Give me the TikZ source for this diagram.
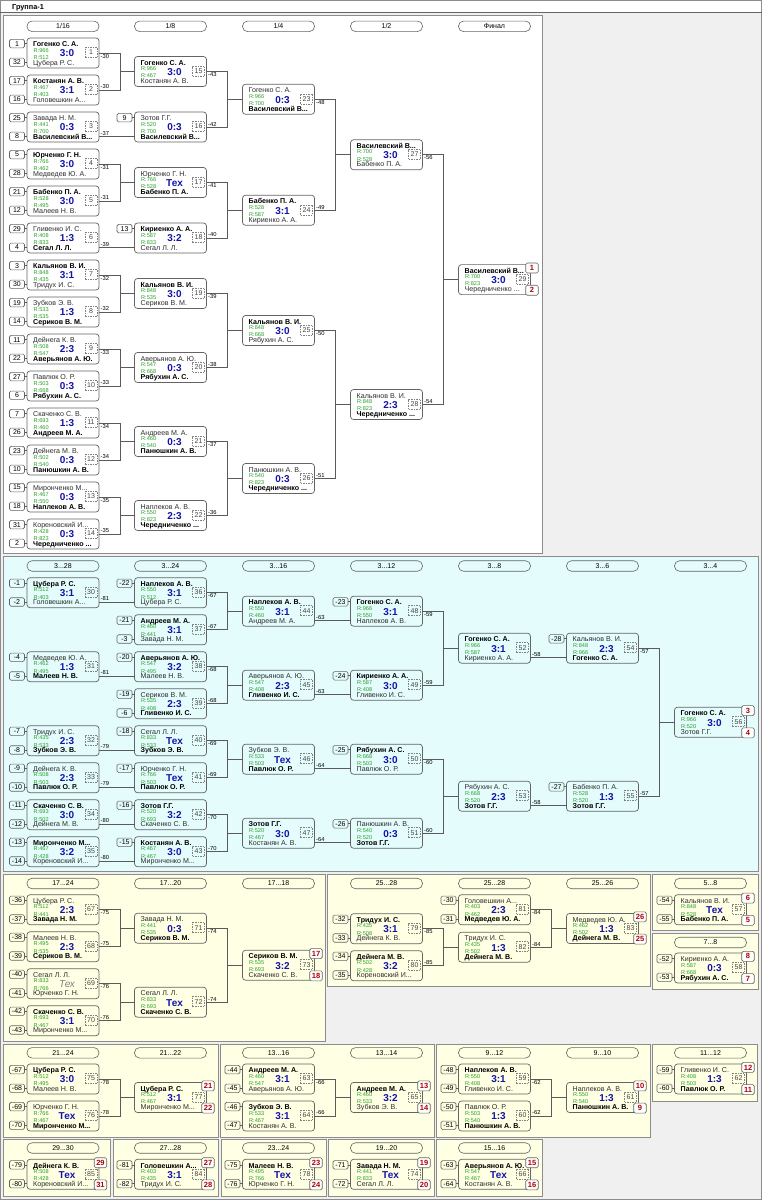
\documentclass[tikz,border=0pt]{standalone}
\usepackage{fontspec}
\setmainfont{Liberation Sans}
\usetikzlibrary{calc}
\definecolor{bggr}{RGB}{240,240,240}
\definecolor{cyn}{RGB}{228,252,252}
\definecolor{ylw}{RGB}{255,255,228}
\definecolor{bx}{RGB}{100,100,100}
\definecolor{cn}{RGB}{90,90,90}
\definecolor{pg}{RGB}{140,140,140}
\definecolor{grn}{RGB}{40,160,40}
\definecolor{blu}{RGB}{20,20,170}
\definecolor{plred}{RGB}{170,0,0}
\definecolor{nmc}{RGB}{45,45,45}
\definecolor{numc}{RGB}{70,70,70}
\newcommand\fs[1]{\fontsize{#1}{#1}\selectfont}
\tikzset{
 mbox/.style={draw=bx, rounded corners=3pt, minimum width=72pt, minimum height=30pt, anchor=north west, inner sep=0pt, outer sep=0pt, line width=0.7pt},
 nm/.style={anchor=base west, inner sep=0pt, font=\fs{7.1}, text=nmc},
 rt/.style={anchor=base west, inner sep=0pt, font=\fs{5.6}, text=grn},
 sc/.style={anchor=base, inner sep=0pt, font=\fs{10}\bfseries, text=blu},
 numbox/.style={draw=gray, dash pattern=on 1.5pt off 1pt, line width=0.5pt, minimum width=12pt, minimum height=10pt, inner sep=0pt, font=\fs{7}, text=numc},
 seed/.style={draw=bx, rounded corners=1.5pt, minimum width=15pt, minimum height=8.5pt, inner sep=0pt, font=\fs{7}, line width=0.6pt},
 plbox/.style={draw=bx, fill=white, rounded corners=1.5pt, minimum width=12.5pt, minimum height=10pt, inner sep=0pt, font=\fs{7.5}\bfseries, text=plred, line width=0.6pt},
 hdr/.style={draw=bx, rounded corners=5pt, minimum width=72pt, minimum height=10.5pt, inner sep=0pt, font=\fs{7}, line width=0.6pt},
 conn/.style={draw=cn, line width=0.7pt},
 lbl/.style={inner sep=0pt, font=\fs{5.8}},
 panel/.style={draw=pg, line width=1pt},
}
\newcommand\mt[9]{%
 \node[mbox] (m#3) at (#1,#2) {};
 \ifnum#4=1 \def\fa{\bfseries\color{black}}\def\fb{}\else\ifnum#4=2 \def\fa{}\def\fb{\bfseries\color{black}}\else\def\fa{}\def\fb{}\fi\fi
 \node[nm] (m#3a) at ([shift={(6,8.7)}]m#3.north west) {\fa #5};
 \node[rt] (m#3ra) at ([shift={(6.5,14)}]m#3.north west) {R:#6};
 \node[rt] (m#3rb) at ([shift={(6.5,21.3)}]m#3.north west) {R:#8};
 \node[nm] (m#3b) at ([shift={(6,27.2)}]m#3.north west) {\fb #7};
 \node[sc] (m#3s) at ([shift={(40,18.8)}]m#3.north west) {#9};
 \node[numbox] (m#3k) at ([shift={(64,14.5)}]m#3.north west) {#3};
}
\newcommand\pj[5]{%
 \draw[conn] (m#1.east) -- ++(21,0) coordinate (j#1) |- (m#2.east);
 \draw[conn] (j#1 |- m#3.west) -- (m#3.west);
 \node[lbl,anchor=north west] (l#1) at ([shift={(1.5,0.8)}]m#1.east) {#4};
 \node[lbl,anchor=south west] (l#2) at ([shift={(1.5,-0.8)}]m#2.east) {#5};
}
\newcommand\st[3]{%
 \draw[conn] ([yshift=-9.3pt]m#1.east) -- ([yshift=-9.3pt]m#2.west);
 \node[lbl,anchor=south west] (l#1) at ([shift={(1.5,8.5)}]m#1.east) {#3};
}
\newcommand\sda[2]{\node[seed] (s#1a) at ([shift={(-10,5.6)}]m#1.north west) {#2}; \draw[conn] (s#1a.east) -- (s#1a.east -| m#1.west);}
\newcommand\sdb[2]{\node[seed] (s#1b) at ([shift={(-10,24.3)}]m#1.north west) {#2}; \draw[conn] (s#1b.east) -- (s#1b.east -| m#1.west);}
\newcommand\sdd[3]{\sda{#1}{#2}\sdb{#1}{#3}}
\newcommand\pl[3]{\node[plbox] (p#1a) at ([shift={(73.5,3.4)}]m#1.north west) {#2}; \node[plbox] (p#1b) at ([shift={(73.5,25.6)}]m#1.north west) {#3};}
\newcount\hc
\newcommand\hd[3]{\global\advance\hc by 1 \node[hdr] (h\the\hc) at (#1+36,#2) {#3};}
\begin{document}
\begin{tikzpicture}[x=1pt,y=-1pt]
\useasboundingbox (0,0) rectangle (762,1200);
\fill[bggr] (0,0) rectangle (762,1200);
\fill[white] (0,0) rectangle (762,12.5);
\draw[pg] (0.5,0.5) rectangle (761.5,1199.5);
\draw[bx, line width=0.8pt] (0,12.5) -- (762,12.5);
\node[anchor=base west, inner sep=0pt, font=\fs{7.3}\bfseries] (ttl) at (12,9.3) {Группа-1};
% panels
\draw[panel, fill=white] (3.5,15) rectangle (542,553);
\draw[panel, fill=cyn] (3.5,556.5) rectangle (758,871.5);
\draw[panel, fill=ylw] (3.5,874) rectangle (325.5,1041);
\draw[panel, fill=ylw] (327.5,874) rectangle (650,986);
\draw[panel, fill=ylw] (652,874) rectangle (758,930);
\draw[panel, fill=ylw] (652,933) rectangle (758,989);
\draw[panel, fill=ylw] (3.5,1044) rectangle (218,1137);
\draw[panel, fill=ylw] (220,1044) rectangle (434,1137);
\draw[panel, fill=ylw] (436,1044) rectangle (650,1137);
\draw[panel, fill=ylw] (652,1044) rectangle (757,1101);
\draw[panel, fill=ylw] (3.5,1139) rectangle (110,1196);
\draw[panel, fill=ylw] (113,1139) rectangle (218,1196);
\draw[panel, fill=ylw] (221,1139) rectangle (326,1196);
\draw[panel, fill=ylw] (328,1139) rectangle (434,1196);
\draw[panel, fill=ylw] (436,1139) rectangle (542,1196);
% headers
\hd{27}{26.3}{1/16}\hd{134.5}{26.3}{1/8}\hd{242.5}{26.3}{1/4}\hd{350.5}{26.3}{1/2}\hd{458.5}{26.3}{Финал}
\hd{27}{566}{3...28}\hd{134.5}{566}{3...24}\hd{242.5}{566}{3...16}\hd{350.5}{566}{3...12}\hd{458.5}{566}{3...8}\hd{566.5}{566}{3...6}\hd{674.5}{566}{3...4}
\hd{27}{883.5}{17...24}\hd{134.5}{883.5}{17...20}\hd{242.5}{883.5}{17...18}\hd{350.5}{883.5}{25...28}\hd{458.5}{883.5}{25...28}\hd{566.5}{883.5}{25...26}\hd{674.5}{883.5}{5...8}
\hd{674.5}{942.5}{7...8}
\hd{27}{1052.8}{21...24}\hd{134.5}{1052.8}{21...22}\hd{242.5}{1052.8}{13...16}\hd{350.5}{1052.8}{13...14}\hd{458.5}{1052.8}{9...12}\hd{566.5}{1052.8}{9...10}\hd{674.5}{1052.8}{11...12}
\hd{27}{1148}{29...30}\hd{134.5}{1148}{27...28}\hd{242.5}{1148}{23...24}\hd{350.5}{1148}{19...20}\hd{458.5}{1148}{15...16}
% ---------- panel 1
\mt{27}{38}{1}{1}{Гогенко С. А.}{966}{Цубера Р. С.}{512}{3:0}
\mt{27}{75}{2}{1}{Костанян А. В.}{467}{Головешкин А...}{403}{3:1}
\mt{27}{112}{3}{2}{Завада Н. М.}{441}{Василевский В...}{700}{0:3}
\mt{27}{149}{4}{1}{Юрченко Г. Н.}{766}{Медведев Ю. А.}{462}{3:0}
\mt{27}{186}{5}{1}{Бабенко П. А.}{528}{Малеев Н. В.}{495}{3:0}
\mt{27}{223}{6}{2}{Гливенко И. С.}{408}{Сегал Л. Л.}{833}{1:3}
\mt{27}{260}{7}{1}{Кальянов В. И.}{848}{Тридух И. С.}{435}{3:1}
\mt{27}{297}{8}{2}{Зубков Э. В.}{533}{Сериков В. М.}{535}{1:3}
\mt{27}{334}{9}{2}{Дейнега К. В.}{508}{Аверьянов А. Ю.}{547}{2:3}
\mt{27}{371}{10}{2}{Павлюк О. Р.}{503}{Рябухин А. С.}{668}{0:3}
\mt{27}{408}{11}{2}{Скаченко С. В.}{693}{Андреев М. А.}{460}{1:3}
\mt{27}{445}{12}{2}{Дейнега М. В.}{502}{Панюшкин А. В.}{540}{0:3}
\mt{27}{482}{13}{2}{Миронченко М...}{467}{Наплеков А. В.}{550}{0:3}
\mt{27}{519}{14}{2}{Кореновский И...}{428}{Чередниченко ...}{823}{0:3}
\mt{134.5}{56.5}{15}{1}{Гогенко С. А.}{966}{Костанян А. В.}{467}{3:0}
\mt{134.5}{112}{16}{2}{Зотов Г.Г.}{520}{Василевский В...}{700}{0:3}
\mt{134.5}{167.5}{17}{2}{Юрченко Г. Н.}{766}{Бабенко П. А.}{528}{Тех}
\mt{134.5}{223}{18}{1}{Кириенко А. А.}{587}{Сегал Л. Л.}{833}{3:2}
\mt{134.5}{278.5}{19}{1}{Кальянов В. И.}{848}{Сериков В. М.}{535}{3:0}
\mt{134.5}{352.5}{20}{2}{Аверьянов А. Ю.}{547}{Рябухин А. С.}{668}{0:3}
\mt{134.5}{426.5}{21}{2}{Андреев М. А.}{460}{Панюшкин А. В.}{540}{0:3}
\mt{134.5}{500.5}{22}{2}{Наплеков А. В.}{550}{Чередниченко ...}{823}{2:3}
\mt{242.5}{84.25}{23}{2}{Гогенко С. А.}{966}{Василевский В...}{700}{0:3}
\mt{242.5}{195.25}{24}{1}{Бабенко П. А.}{528}{Кириенко А. А.}{587}{3:1}
\mt{242.5}{315.5}{25}{1}{Кальянов В. И.}{848}{Рябухин А. С.}{668}{3:0}
\mt{242.5}{463.5}{26}{2}{Панюшкин А. В.}{540}{Чередниченко ...}{823}{0:3}
\mt{350.5}{139.75}{27}{1}{Василевский В...}{700}{Бабенко П. А.}{528}{3:0}
\mt{350.5}{389.5}{28}{2}{Кальянов В. И.}{848}{Чередниченко ...}{823}{2:3}
\mt{458.5}{264.6}{29}{1}{Василевский В...}{700}{Чередниченко ...}{823}{3:0}
\sdd{1}{1}{32}\sdd{2}{17}{16}\sdd{3}{25}{8}\sdd{4}{5}{28}\sdd{5}{21}{12}\sdd{6}{29}{4}\sdd{7}{3}{30}
\sdd{8}{19}{14}\sdd{9}{11}{22}\sdd{10}{27}{6}\sdd{11}{7}{26}\sdd{12}{23}{10}\sdd{13}{15}{18}\sdd{14}{31}{2}
\sda{16}{9}\sda{18}{13}
\pj{1}{2}{15}{-30}{-30}\st{3}{16}{-37}\pj{4}{5}{17}{-31}{-31}\st{6}{18}{-39}
\pj{7}{8}{19}{-32}{-32}\pj{9}{10}{20}{-33}{-33}\pj{11}{12}{21}{-34}{-34}\pj{13}{14}{22}{-35}{-35}
\pj{15}{16}{23}{-43}{-42}\pj{17}{18}{24}{-41}{-40}\pj{19}{20}{25}{-39}{-38}\pj{21}{22}{26}{-37}{-36}
\pj{23}{24}{27}{-48}{-49}\pj{25}{26}{28}{-50}{-51}\pj{27}{28}{29}{-56}{-54}
\pl{29}{1}{2}
% ---------- panel 2
\mt{27}{577.7}{30}{1}{Цубера Р. С.}{512}{Головешкин А...}{403}{3:1}
\mt{27}{651.7}{31}{2}{Медведев Ю. А.}{462}{Малеев Н. В.}{495}{1:3}
\mt{27}{725.7}{32}{2}{Тридух И. С.}{435}{Зубков Э. В.}{533}{2:3}
\mt{27}{762.7}{33}{2}{Дейнега К. В.}{508}{Павлюк О. Р.}{503}{2:3}
\mt{27}{799.7}{34}{1}{Скаченко С. В.}{693}{Дейнега М. В.}{502}{3:0}
\mt{27}{836.7}{35}{1}{Миронченко М...}{467}{Кореновский И...}{428}{3:2}
\mt{134.5}{577.7}{36}{1}{Наплеков А. В.}{550}{Цубера Р. С.}{512}{3:1}
\mt{134.5}{614.7}{37}{1}{Андреев М. А.}{460}{Завада Н. М.}{441}{3:1}
\mt{134.5}{651.7}{38}{1}{Аверьянов А. Ю.}{547}{Малеев Н. В.}{495}{3:2}
\mt{134.5}{688.7}{39}{2}{Сериков В. М.}{535}{Гливенко И. С.}{408}{2:3}
\mt{134.5}{725.7}{40}{2}{Сегал Л. Л.}{833}{Зубков Э. В.}{533}{Тех}
\mt{134.5}{762.7}{41}{2}{Юрченко Г. Н.}{766}{Павлюк О. Р.}{503}{Тех}
\mt{134.5}{799.7}{42}{1}{Зотов Г.Г.}{520}{Скаченко С. В.}{693}{3:2}
\mt{134.5}{836.7}{43}{1}{Костанян А. В.}{467}{Миронченко М...}{467}{3:0}
\mt{242.5}{596.2}{44}{1}{Наплеков А. В.}{550}{Андреев М. А.}{460}{3:1}
\mt{242.5}{670.2}{45}{2}{Аверьянов А. Ю.}{547}{Гливенко И. С.}{408}{2:3}
\mt{242.5}{744.2}{46}{2}{Зубков Э. В.}{533}{Павлюк О. Р.}{503}{Тех}
\mt{242.5}{818.2}{47}{1}{Зотов Г.Г.}{520}{Костанян А. В.}{467}{3:0}
\mt{350.5}{596.2}{48}{1}{Гогенко С. А.}{966}{Наплеков А. В.}{550}{3:1}
\mt{350.5}{670.2}{49}{1}{Кириенко А. А.}{587}{Гливенко И. С.}{408}{3:0}
\mt{350.5}{744.2}{50}{1}{Рябухин А. С.}{668}{Павлюк О. Р.}{503}{3:0}
\mt{350.5}{818.2}{51}{2}{Панюшкин А. В.}{540}{Зотов Г.Г.}{520}{0:3}
\mt{458.5}{633.2}{52}{1}{Гогенко С. А.}{966}{Кириенко А. А.}{587}{3:1}
\mt{458.5}{781.2}{53}{2}{Рябухин А. С.}{668}{Зотов Г.Г.}{520}{2:3}
\mt{566.5}{633.2}{54}{2}{Кальянов В. И.}{848}{Гогенко С. А.}{966}{2:3}
\mt{566.5}{781.2}{55}{2}{Бабенко П. А.}{528}{Зотов Г.Г.}{520}{1:3}
\mt{674.5}{707.2}{56}{1}{Гогенко С. А.}{966}{Зотов Г.Г.}{520}{3:0}
\sdd{30}{-1}{-2}\sdd{31}{-4}{-5}\sdd{32}{-7}{-8}\sdd{33}{-9}{-10}\sdd{34}{-11}{-12}\sdd{35}{-13}{-14}
\sda{36}{-22}\sdd{37}{-21}{-3}\sda{38}{-20}\sdd{39}{-19}{-6}\sda{40}{-18}\sda{41}{-17}\sda{42}{-16}\sda{43}{-15}
\sda{48}{-23}\sda{49}{-24}\sda{50}{-25}\sda{51}{-26}\sda{54}{-28}\sda{55}{-27}
\st{30}{36}{-81}\st{31}{38}{-81}\st{32}{40}{-79}\st{33}{41}{-79}\st{34}{42}{-80}\st{35}{43}{-80}
\pj{36}{37}{44}{-67}{-67}\pj{38}{39}{45}{-68}{-68}\pj{40}{41}{46}{-69}{-69}\pj{42}{43}{47}{-70}{-70}
\st{44}{48}{-63}\st{45}{49}{-63}\st{46}{50}{-64}\st{47}{51}{-64}
\pj{48}{49}{52}{-59}{-59}\pj{50}{51}{53}{-60}{-60}
\st{52}{54}{-58}\st{53}{55}{-58}
\pj{54}{55}{56}{-57}{-57}
\pl{56}{3}{4}
% ---------- panel 17..24
\mt{27}{894.7}{67}{2}{Цубера Р. С.}{512}{Завада Н. М.}{441}{2:3}
\mt{27}{931.7}{68}{2}{Малеев Н. В.}{495}{Сериков В. М.}{535}{2:3}
\mt{27}{968.7}{69}{0}{Сегал Л. Л.}{833}{Юрченко Г. Н.}{766}{\color{gray}\mdseries\itshape Тех}
\mt{27}{1005.7}{70}{1}{Скаченко С. В.}{693}{Миронченко М...}{467}{3:1}
\mt{134.5}{913.2}{71}{2}{Завада Н. М.}{441}{Сериков В. М.}{535}{0:3}
\mt{134.5}{987.2}{72}{2}{Сегал Л. Л.}{833}{Скаченко С. В.}{693}{Тех}
\mt{242.5}{950.2}{73}{1}{Сериков В. М.}{535}{Скаченко С. В.}{693}{3:2}
\sdd{67}{-36}{-37}\sdd{68}{-38}{-39}\sdd{69}{-40}{-41}\sdd{70}{-42}{-43}
\pj{67}{68}{71}{-75}{-75}\pj{69}{70}{72}{-76}{-76}\pj{71}{72}{73}{-74}{-74}
\pl{73}{17}{18}
% ---------- panel 25..28
\mt{350.5}{913.7}{79}{1}{Тридух И. С.}{435}{Дейнега К. В.}{508}{3:1}
\mt{350.5}{950.7}{80}{1}{Дейнега М. В.}{502}{Кореновский И...}{428}{3:2}
\mt{458.5}{894.7}{81}{2}{Головешкин А...}{403}{Медведев Ю. А.}{462}{2:3}
\mt{458.5}{932.2}{82}{2}{Тридух И. С.}{435}{Дейнега М. В.}{502}{1:3}
\mt{566.5}{913.45}{83}{2}{Медведев Ю. А.}{462}{Дейнега М. В.}{502}{1:3}
\sdd{79}{-32}{-33}\sdd{80}{-34}{-35}\sdd{81}{-30}{-31}
\pj{79}{80}{82}{-85}{-85}\pj{81}{82}{83}{-84}{-84}
\pl{83}{26}{25}
% ---------- 5..8, 7..8
\mt{674.5}{894.7}{57}{2}{Кальянов В. И.}{848}{Бабенко П. А.}{528}{Тех}
\mt{674.5}{953}{58}{2}{Кириенко А. А.}{587}{Рябухин А. С.}{668}{0:3}
\sdd{57}{-54}{-55}\sdd{58}{-52}{-53}
\pl{57}{6}{5}\pl{58}{8}{7}
% ---------- row 4
\mt{27}{1064}{75}{1}{Цубера Р. С.}{512}{Малеев Н. В.}{495}{3:0}
\mt{27}{1101}{76}{2}{Юрченко Г. Н.}{766}{Миронченко М...}{467}{Тех}
\mt{134.5}{1082.5}{77}{1}{Цубера Р. С.}{512}{Миронченко М...}{467}{3:1}
\mt{242.5}{1064}{63}{1}{Андреев М. А.}{460}{Аверьянов А. Ю.}{547}{3:1}
\mt{242.5}{1101}{64}{1}{Зубков Э. В.}{533}{Костанян А. В.}{467}{3:1}
\mt{350.5}{1082.5}{65}{1}{Андреев М. А.}{460}{Зубков Э. В.}{533}{3:2}
\mt{458.5}{1064}{59}{1}{Наплеков А. В.}{550}{Гливенко И. С.}{408}{3:1}
\mt{458.5}{1101}{60}{2}{Павлюк О. Р.}{503}{Панюшкин А. В.}{540}{1:3}
\mt{566.5}{1082.5}{61}{2}{Наплеков А. В.}{550}{Панюшкин А. В.}{540}{1:3}
\mt{674.5}{1064}{62}{2}{Гливенко И. С.}{408}{Павлюк О. Р.}{503}{1:3}
\sdd{75}{-67}{-68}\sdd{76}{-69}{-70}\sdd{63}{-44}{-45}\sdd{64}{-46}{-47}
\sdd{59}{-48}{-49}\sdd{60}{-50}{-51}\sdd{62}{-59}{-60}
\pj{75}{76}{77}{-78}{-78}\pj{63}{64}{65}{-66}{-66}\pj{59}{60}{61}{-62}{-62}
\pl{77}{21}{22}\pl{65}{13}{14}\pl{61}{10}{9}\pl{62}{12}{11}
% ---------- row 5
\mt{27}{1159.3}{85}{1}{Дейнега К. В.}{508}{Кореновский И...}{428}{Тех}
\mt{134.5}{1159.3}{84}{1}{Головешкин А...}{403}{Тридух И. С.}{435}{3:1}
\mt{242.5}{1159.3}{78}{1}{Малеев Н. В.}{495}{Юрченко Г. Н.}{766}{Тех}
\mt{350.5}{1159.3}{74}{1}{Завада Н. М.}{441}{Сегал Л. Л.}{833}{Тех}
\mt{458.5}{1159.3}{66}{1}{Аверьянов А. Ю.}{547}{Костанян А. В.}{467}{Тех}
\sdd{85}{-79}{-80}\sdd{84}{-81}{-82}\sdd{78}{-75}{-76}\sdd{74}{-71}{-72}\sdd{66}{-63}{-64}
\pl{85}{29}{31}\pl{84}{27}{28}\pl{78}{23}{24}\pl{74}{19}{20}\pl{66}{15}{16}
\end{tikzpicture}
\end{document}
